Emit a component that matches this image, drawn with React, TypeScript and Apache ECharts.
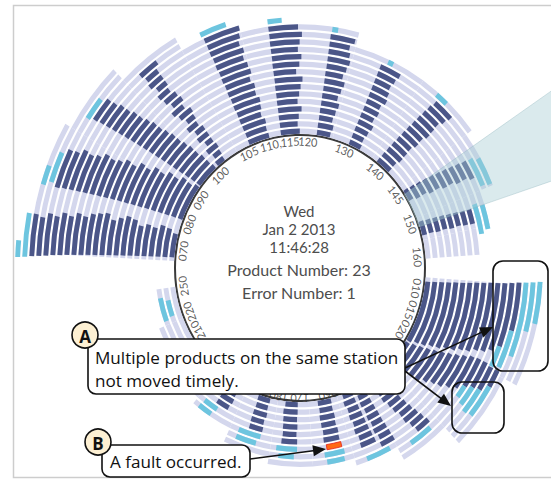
import React, { useEffect, useRef } from "react";
import * as echarts from "echarts";

// ---------- data ----------
const RING_COUNT = 23;
const ringNames = Array.from({ length: RING_COUNT }, (_, i) => "P" + (i + 1));

const stationLabels = ["070", "080", "090", "100", "105", "110,", "115", "120", "130", "140", "145", "150", "160", "010", "015", "020", "060", "170", "180", "210", "220", "250"];
const stationAngles = [7.8, 20.3, 32.7, 47.5, 64.7, 75.7, 85.2, 93.8, 111.9, 129.7, 144.3, 159.5, 175, 189.4, 199.7, 209.4, 256.7, 270, 279.9, 330.2, 339.6, 351.7];
const stationRadius = [118, 118, 118, 118, 119, 119, 119, 119, 119, 118, 118, 118, 118, 118, 118, 118, 122.5, 122.5, 122.5, 118, 118, 118];

// lavender tracks: angular zones and how many product rings each holds
const zoneStart = [3, 30, 45, 60, 75, 90, 105, 125, 143, 158, 168, 184, 207, 226, 240, 253, 266, 280, 295, 310, 326, 338];
const zoneEnd = [30, 45, 60, 75, 90, 105, 125, 143, 158, 168, 176, 207, 226, 240, 253, 266, 280, 295, 310, 326, 338, 352];
const zoneRings = [21, 20, 18, 16, 15, 15, 13, 13, 12, 10, 8, 17, 15, 12, 10, 9, 9, 8, 6, 5, 4, 3];

// per ring: [start angle, dark (processing), light blue (waiting), fault]
const band070 = [[4.5, 10, 0], [4.4, 11.5, 0], [4.3, 12, 0], [4.2, 10.5, 0], [4.1, 11, 0], [4, 10, 0], [3.9, 11.5, 0], [3.8, 12, 0], [3.7, 11, 0], [3.6, 10, 0], [3.5, 11.5, 0], [3.4, 11, 0], [3.3, 10.5, 0], [3.2, 9.5, 0], [3.1, 10, 0], [3, 9, 0], [2.9, 9.5, 0], [2.8, 8.5, 0], [2.6, 9, 0], [2.5, 8, 0], [2.4, 8.5, 0], [2.2, 0, 8.6], [2.1, 0, 3.2]];
const band080 = [[21, 16, 0], [20.8, 15, 0], [20.6, 15.5, 0], [20.4, 14, 0], [20.2, 14.5, 0], [20, 13, 0], [19.8, 13.5, 0], [19.6, 12, 0], [19.4, 12.5, 0], [19.2, 11, 0], [19, 11.5, 0], [18.8, 10.5, 0], [18.6, 10, 0], [18.4, 10.5, 0], [18.2, 9.5, 0], [18, 9, 0], [17.8, 9.5, 0], [17.6, 8.5, 0], [17.3, 8.5, 0], [18, 0, 6.5], [17, 0, 4]];
const band090 = [[37.7, 10.5, 0], [37.5, 10, 0], [37.3, 10, 0], [37, 9.5, 0], [36.8, 9.5, 0], [36.6, 9, 0], [36.4, 8.5, 0], [36.2, 8.5, 0], [36, 8, 0], [35.8, 7.5, 0], [35.6, 7.5, 0], [35.4, 7, 0], [35.2, 6.5, 0], [35, 6.5, 0], [34.8, 6, 0], [34.6, 6, 0], [34.4, 5.5, 0], [34.1, 5.5, 0], [33.5, 0, 5]];
const band100 = [[49.5, 4, 0], [50.5, 3.5, 0], [49.5, 5, 0], [51, 3, 0], [49.5, 4.5, 0], [50.5, 3.5, 0], [49, 4, 0], [50.5, 3, 0], [49.5, 4.5, 0], [48.5, 4, 0], [50, 3.5, 0], [49, 4, 0], [48.5, 3.5, 0], [49.5, 3, 0], [48.5, 4, 0], [49, 3.5, 0], [48.5, 5, 0]];
const band105 = [[66.5, 9.5, 0], [66.6, 9, 0], [66.5, 9.5, 0], [66.4, 8.5, 0], [66.5, 9, 0], [66.3, 9.5, 0], [66.4, 8.5, 0], [66.2, 9, 0], [66.3, 8, 0], [66.1, 9, 0], [66.2, 8.5, 0], [66, 8, 0], [66.1, 8.5, 0], [65.9, 8, 0], [66, 8.5, 0], [65.9, 9, 0], [65.5, 0, 6.5]];
const band110 = [[81.4, 8.5, 0], [81.5, 7.5, 0], [81.5, 8, 0], [81.6, 9, 0], [81.6, 7.5, 0], [81.7, 8, 0], [81.7, 8.5, 0], [81.8, 9, 0], [81.8, 7, 0], [81.8, 8, 0], [81.9, 8.5, 0], [81.9, 7.5, 0], [81.9, 8, 0], [82, 8.5, 0], [82, 7.5, 0], [82, 0, 3.5]];
const band120 = [[97.6, 6, 0], [97.6, 6.5, 0], [97.7, 5.5, 0], [97.7, 6, 0], [97.8, 6.5, 0], [97.8, 5.5, 0], [97.9, 6, 0], [97.9, 6.5, 0], [97.9, 5.5, 0], [98, 6, 0], [98, 6.5, 0], [98, 6, 0], [98, 5.5, 0], [98, 6.5, 0], [98.2, 0, 1.5]];
const band130 = [[112.7, 5.5, 0], [112.8, 5, 0], [112.8, 5.5, 0], [112.9, 6, 0], [112.9, 5, 0], [113, 5.5, 0], [113, 5, 0], [113, 6, 0], [113, 5.5, 0], [113, 5, 0], [113, 5.5, 0], [113, 6, 0], [114.5, 0, 1.5]];
const band140 = [[127.5, 7, 0], [127.8, 6.5, 0], [128.1, 7, 0], [128.4, 6.5, 0], [128.7, 6, 0], [129, 6.5, 0], [129.3, 6, 0], [129.6, 6.5, 0], [129.9, 6, 0], [130.2, 5.5, 0], [130.5, 6, 0], [131, 6, 0], [130, 0, 3.5]];
const band145 = [[145, 5, 0], [145.4, 5.5, 0], [145.8, 5, 0], [146.2, 5.5, 0], [146.6, 5, 0], [147, 5.5, 0], [147.4, 5, 0], [147.8, 5.5, 0], [148.2, 5, 0], [148.6, 5.5, 0], [149, 0, 8], [150, 0, 7.5]];
const band150 = [[160, 6, 0], [160.3, 5.5, 0], [160.6, 5.5, 0], [160.9, 5, 0], [161.2, 5, 0], [161.5, 4.5, 0], [161.8, 4.5, 0], [162, 4.5, 0], [161, 0, 9], [162, 0, 7]];
const band010 = [[185.8, 26.5, 0], [185.6, 25.5, 0], [185.4, 25, 0], [185.2, 24, 0], [185, 23.5, 0], [184.9, 22.5, 0], [184.7, 22, 0], [184.5, 21, 0], [184.4, 20.5, 0], [184.2, 19.5, 0], [184.1, 19, 0], [184, 18, 0], [183.8, 16.5, 5.5], [183.6, 12, 9.5], [183.5, 0, 18], [183.3, 0, 11.5], [183.1, 0, 9.5]];
const band015 = [[213, 11, 0], [212.2, 11, 0], [211.4, 11.5, 0], [210.6, 11.5, 0], [209.8, 12, 0], [209, 11.5, 0], [208.2, 11, 0], [207.4, 11, 0], [206.6, 10.5, 0], [205.8, 10, 0], [205.5, 8.5, 3.5], [205.5, 7.5, 5.5], [206, 6.5, 7], [206, 4.5, 8.5]];
const band020 = [[232.5, 5, 0], [232, 5.5, 0], [231.5, 5, 0], [231, 5.5, 0], [230.5, 5, 0], [230, 5, 0], [229.5, 4.5, 0], [229, 5, 0], [228.5, 4.5, 0], [228, 4.5, 0], [229, 0, 7]];
const band030 = [[240.5, 4.5, 0], [240.5, 4, 0], [240.3, 4.5, 0], [240.2, 4, 0], [240, 4.5, 0], [240, 4, 0], [239.8, 4.5, 0], [239.6, 4, 0], [239.5, 4.5, 0]];
const band050 = [[246, 4.5, 0], [246, 5, 0], [245.8, 4.5, 0], [245.6, 5, 0], [245.5, 4.5, 0], [245.4, 5, 0], [245.2, 4.5, 0], [245, 5, 0], null, [242, 0, 7.5]];
const band060 = [[256, 6, 0], [256.2, 5.5, 0], [256, 6, 0], [256.3, 5.5, 0], [256, 5.5, 0], [256.2, 5.5, 0], [256, 0, 0, 5], [255.5, 0, 6.5], [256, 0, 5.5]];
const band170 = [[271, 5.5, 0], [271, 6, 0], [271.2, 5.5, 0], [271, 5.5, 0], [271.3, 5, 0], [271, 5.5, 0], [271, 0, 7], [272, 0, 5]];
const band180 = [[283.5, 5.5, 0], [283.8, 5, 0], [283.5, 5.5, 0], [284, 5, 0], [283.8, 5, 0], [284, 0, 8], [285, 0, 7]];
const band200 = [[298, 5.5, 0], [298.3, 5, 0], [298, 5.5, 0], [298.5, 5, 0], [302, 0, 5.5], [303, 0, 5]];
const band250 = [null, [340.5, 0, 6.5], [339.5, 0, 9]];

const bandList: any[] = [band070, band080, band090, band100, band105, band110, band120, band130, band140, band145, band150, band010, band015, band020, band030, band050, band060, band170, band180, band200, band250];

const wedgeFrom = 146.5;
const wedgeTo = 162;

const centerLines = ["Wed", "Jan 2 2013", "11:46:28", "Product Number: 23", "Error Number: 1"];
const noteA = ["Multiple products on the same station", "not moved timely."];
const noteB = "A fault occurred.";

// ---------- styles ----------
const LAVENDER = "#d4d7ed";
const DARK = "#4b5688";
const BLUE = "#6dc5df";
const FAULT = "#ff6a14";
const CX = 300;
const CY = 251.8;
const R0 = 125;
const R1 = 286;
const SY = 1.0643;
const BAR_W = 4.9;

function barSeries(polarIndex: number, stack: string, data: number[], color: string, z: number, extra: any = {}) {
  return {
    type: "bar",
    coordinateSystem: "polar",
    polarIndex,
    stack,
    data,
    barWidth: BAR_W,
    barMaxWidth: BAR_W,
    silent: true,
    z,
    itemStyle: { color, borderWidth: 0, ...extra },
  };
}

function buildPolarOption() {
  const series: any[] = [];
  // background tracks (own polar so that its bars sit exactly under the marks)
  const cumBg = new Array(RING_COUNT).fill(0);
  zoneStart.forEach((s, zi) => {
    const gap: number[] = [];
    const fill: number[] = [];
    for (let k = 0; k < RING_COUNT; k++) {
      if (k < zoneRings[zi]) {
        const g = Math.max(0, s - cumBg[k]);
        gap.push(g);
        fill.push(zoneEnd[zi] - s);
        cumBg[k] += g + zoneEnd[zi] - s;
      } else {
        gap.push(0);
        fill.push(0);
      }
    }
    series.push(barSeries(3, "bg", gap, "rgba(0,0,0,0)", 1));
    series.push(barSeries(3, "bg", fill, LAVENDER, 1));
  });
  // product marks
  const cum = new Array(RING_COUNT).fill(0);
  bandList.forEach((band) => {
    const gap: number[] = [];
    const dark: number[] = [];
    const fault: number[] = [];
    const blue: number[] = [];
    let hasFault = false;
    for (let k = 0; k < RING_COUNT; k++) {
      const row = band[k];
      if (!row) {
        gap.push(0); dark.push(0); fault.push(0); blue.push(0);
        continue;
      }
      const s = row[0], d = row[1], b = row[2], f = row[3] || 0;
      if (f) hasFault = true;
      const g = Math.max(0, s - cum[k]);
      gap.push(g); dark.push(d); fault.push(f); blue.push(b);
      cum[k] += g + d + f + b;
    }
    series.push(barSeries(0, "marks", gap, "rgba(0,0,0,0)", 2));
    series.push(barSeries(0, "marks", dark, DARK, 2));
    if (hasFault) series.push(barSeries(0, "marks", fault, FAULT, 3, { borderColor: "#e8261a", borderWidth: 0.8 }));
    series.push(barSeries(0, "marks", blue, BLUE, 2));
  });
  // highlighted wedge
  series.push({
    type: "bar", coordinateSystem: "polar", polarIndex: 2, stack: "wedge", data: [wedgeFrom],
    barWidth: "100%", silent: true, z: 6, itemStyle: { color: "rgba(0,0,0,0)" },
  });
  series.push({
    type: "bar", coordinateSystem: "polar", polarIndex: 2, stack: "wedge", data: [wedgeTo - wedgeFrom],
    barWidth: "100%", silent: true, z: 6,
    itemStyle: { color: "rgba(168,204,211,0.42)", borderColor: "rgba(140,180,188,0.6)", borderWidth: 0.6 },
  });
  // station labels
  series.push({
    type: "scatter", coordinateSystem: "polar", polarIndex: 1, symbol: "circle", symbolSize: 1, silent: true, z: 8,
    itemStyle: { color: "rgba(0,0,0,0)" },
    data: stationLabels.map((t, i) => ({
      name: t,
      value: [stationRadius[i], stationAngles[i]],
      label: { rotate: 90 - stationAngles[i] },
    })),
    label: {
      show: true, position: "inside", formatter: "{b}", fontSize: 11, color: "#333",
      fontFamily: "Lato", align: "center", verticalAlign: "middle",
    },
  });

  const hiddenAngle = { type: "value", min: 0, max: 360, startAngle: 180, clockwise: true, show: false };
  return {
    animation: false,
    polar: [
      { center: [CX, CY], radius: [R0, R1] },
      { center: [CX, CY], radius: [0, R0] },
      { center: [CX, CY], radius: [R0, 330] },
      { center: [CX, CY], radius: [R0, R1] },
    ],
    angleAxis: [
      { ...hiddenAngle, polarIndex: 0 },
      {
        type: "value", min: 0, max: 360, startAngle: 180, clockwise: true, polarIndex: 1,
        axisLine: { show: true, lineStyle: { color: "#3a3a3a", width: 2 } },
        axisTick: { show: false }, axisLabel: { show: false }, splitLine: { show: false }, splitArea: { show: false },
      },
      { ...hiddenAngle, polarIndex: 2 },
      { ...hiddenAngle, polarIndex: 3 },
    ],
    radiusAxis: [
      { polarIndex: 0, type: "category", data: ringNames, show: false },
      { polarIndex: 1, type: "value", min: 0, max: R0, show: false },
      { polarIndex: 2, type: "category", data: ["wedge"], show: false },
      { polarIndex: 3, type: "category", data: ringNames, show: false },
    ],
    series,
  };
}

function arrow(x1: number, y1: number, x2: number, y2: number) {
  const dx = x2 - x1, dy = y2 - y1;
  const L = Math.sqrt(dx * dx + dy * dy);
  const ux = dx / L, uy = dy / L;
  const len = 13, w = 5.5;
  const bx = x2 - ux * len, by = y2 - uy * len;
  return [
    { type: "line", silent: true, shape: { x1, y1, x2: bx + ux * 2, y2: by + uy * 2 }, style: { stroke: "#111", lineWidth: 1.6 } },
    {
      type: "polygon", silent: true,
      shape: { points: [[x2, y2], [bx - uy * w, by + ux * w], [bx + uy * w, by - ux * w]] },
      style: { fill: "#111" },
    },
  ];
}

function buildOverlayOption() {
  const els: any[] = [];
  els.push({ type: "rect", silent: true, shape: { x: 13.5, y: 5.5, width: 580, height: 472 }, style: { fill: "none", stroke: "#cdcdcd", lineWidth: 1.5 } });
  const ys = [211, 229, 247, 269, 292];
  const sizes = [15, 15, 15, 16, 16];
  centerLines.forEach((t, i) => {
    els.push({
      type: "text", silent: true,
      style: { text: t, x: 299, y: ys[i], fill: "#4d4d4d", fontSize: sizes[i], fontFamily: "Lato", align: "center", verticalAlign: "middle" },
    });
  });
  // arrows
  els.push(...arrow(405, 368, 493, 327));
  els.push(...arrow(405, 371, 451, 406));
  els.push(...arrow(250, 459, 326, 449));
  // boxes around blue areas
  els.push({ type: "rect", silent: true, shape: { x: 493, y: 261, width: 55, height: 110, r: 10 }, style: { fill: "none", stroke: "#111", lineWidth: 1.6 } });
  els.push({ type: "rect", silent: true, shape: { x: 452, y: 382, width: 52, height: 51, r: 10 }, style: { fill: "none", stroke: "#111", lineWidth: 1.6 } });
  // callout A
  els.push({ type: "rect", silent: true, shape: { x: 88, y: 339, width: 317, height: 55, r: 8 }, style: { fill: "#fff", stroke: "#111", lineWidth: 1.6 } });
  els.push({ type: "text", silent: true, style: { text: noteA[0], x: 95, y: 357, fill: "#111", fontSize: 17.1, fontFamily: "Open Sans", align: "left", verticalAlign: "middle" } });
  els.push({ type: "text", silent: true, style: { text: noteA[1], x: 95, y: 380, fill: "#111", fontSize: 17.1, fontFamily: "Open Sans", align: "left", verticalAlign: "middle" } });
  els.push({ type: "circle", silent: true, shape: { cx: 85, cy: 335, r: 13 }, style: { fill: "#fdf0d3", stroke: "#111", lineWidth: 1.6 } });
  els.push({ type: "text", silent: true, style: { text: "A", x: 85, y: 336, fill: "#111", fontSize: 17, fontWeight: "bold", fontFamily: "Open Sans", align: "center", verticalAlign: "middle" } });
  // callout B
  els.push({ type: "rect", silent: true, shape: { x: 102, y: 445, width: 148, height: 32, r: 8 }, style: { fill: "#fff", stroke: "#111", lineWidth: 1.6 } });
  els.push({ type: "text", silent: true, style: { text: noteB, x: 110, y: 461, fill: "#111", fontSize: 17.1, fontFamily: "Open Sans", align: "left", verticalAlign: "middle" } });
  els.push({ type: "circle", silent: true, shape: { cx: 98, cy: 442, r: 13 }, style: { fill: "#fdf0d3", stroke: "#111", lineWidth: 1.6 } });
  els.push({ type: "text", silent: true, style: { text: "B", x: 98, y: 443, fill: "#111", fontSize: 17, fontWeight: "bold", fontFamily: "Open Sans", align: "center", verticalAlign: "middle" } });
  return { animation: false, graphic: { elements: els } };
}

export default function App() {
  const aRef = useRef<HTMLDivElement>(null);
  const bRef = useRef<HTMLDivElement>(null);
  useEffect(() => {
    const a = echarts.init(aRef.current as HTMLDivElement, undefined, { renderer: "svg" });
    a.setOption(buildPolarOption() as any);
    const b = echarts.init(bRef.current as HTMLDivElement, undefined, { renderer: "svg" });
    b.setOption(buildOverlayOption() as any);
    return () => {
      a.dispose();
      b.dispose();
    };
  }, []);
  return (
    <div style={{ position: "absolute", left: 0, top: 0, width: 551, height: 480, background: "#fff", overflow: "hidden" }}>
      <div
        ref={aRef}
        style={{ position: "absolute", left: 0, top: 0, width: 551, height: 451, transform: `scaleY(${SY})`, transformOrigin: "0 0" }}
      />
      <div ref={bRef} style={{ position: "absolute", left: 0, top: 0, width: 551, height: 480 }} />
    </div>
  );
}
